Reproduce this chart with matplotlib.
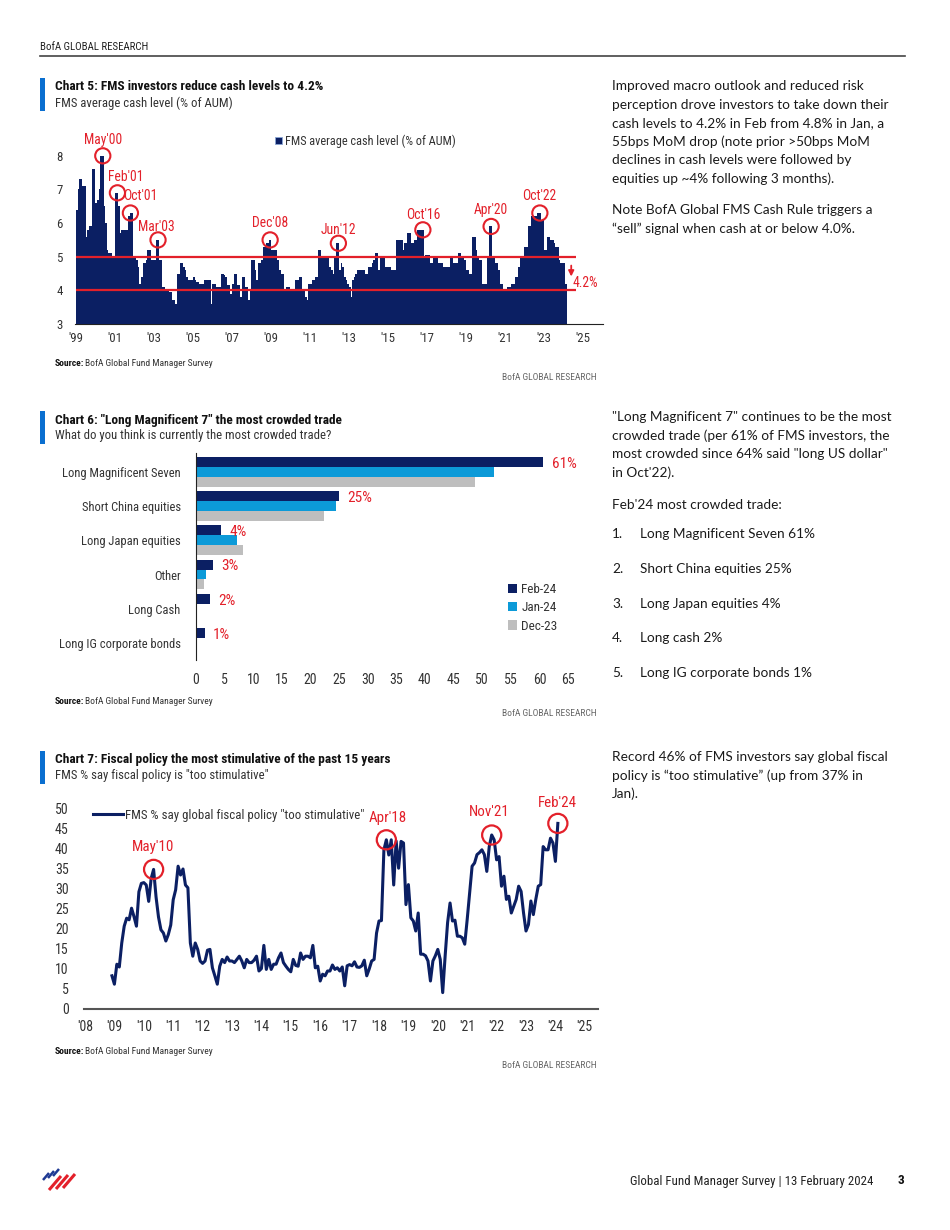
import numpy as np
import matplotlib
matplotlib.use('Agg')
import matplotlib.pyplot as plt
from matplotlib import font_manager
from matplotlib.patches import Rectangle, Patch
from matplotlib.lines import Line2D

W, H = 950, 1230

# fonts: narrow face for charts if available
names = {f.name for f in font_manager.fontManager.ttflist}
COND = next((n for n in ['Liberation Sans Narrow', 'Roboto Condensed', 'Open Sans Condensed',
                         'DejaVu Sans Condensed'] if n in names), 'Roboto')
BODY = 'Lato' if 'Lato' in names else 'DejaVu Sans'

NAVY = '#0b1f63'
RED = '#e3202a'
CYAN = '#0c9ad8'
GREY = '#bebebe'
BLUE_BAR = '#0a6fd0'

# ---------------- DATA ----------------
# Chart 5: FMS average cash level (% of AUM), monthly Jan-1999 .. Feb-2024
cash = [
    6.4, 7.0, 7.3, 7.3, 7.1, 7.1, 5.6, 5.8, 5.9, 5.9, 7.6, 7.6,   # 1999
    6.6, 6.7, 7.0, 8.0, 8.0, 6.5, 6.0, 5.2, 5.1, 5.1, 5.0, 5.0,   # 2000
    6.9, 6.9, 6.5, 5.7, 5.8, 5.8, 5.8, 5.8, 6.2, 6.3, 6.3, 5.0,   # 2001
    5.0, 4.9, 4.7, 4.2, 4.4, 4.8, 4.8, 4.9, 5.2, 5.2, 4.9, 4.9,   # 2002
    4.9, 5.5, 5.5, 4.9, 4.9, 4.1, 4.1, 4.0, 4.0, 3.95, 3.95, 3.7,  # 2003
    3.7, 3.6, 4.5, 4.5, 4.8, 4.8, 4.7, 4.6, 4.4, 4.3, 4.3, 4.3,   # 2004
    4.4, 4.3, 4.25, 4.25, 4.2, 4.2, 4.2, 4.3, 4.3, 4.3, 4.3, 3.6,  # 2005
    4.2, 4.2, 4.1, 4.1, 4.1, 4.5, 4.5, 4.45, 4.4, 4.15, 4.15, 3.9,  # 2006
    4.2, 4.5, 4.5, 4.15, 4.15, 3.8, 4.4, 4.4, 4.1, 4.1, 3.7, 4.0,  # 2007
    4.9, 4.9, 4.6, 4.3, 4.8, 4.8, 4.9, 5.3, 5.3, 5.4, 5.4, 5.5,   # 2008
    5.2, 5.2, 5.2, 5.2, 4.9, 4.6, 4.5, 4.5, 4.0, 4.1, 4.1, 4.1,   # 2009
    4.05, 4.05, 4.05, 4.3, 4.3, 4.4, 4.4, 4.0, 4.0, 3.8, 3.7, 4.2,  # 2010
    4.2, 4.3, 4.3, 4.4, 4.4, 5.2, 5.2, 5.0, 5.0, 5.0, 5.0, 5.0,   # 2011
    4.7, 4.6, 4.5, 5.0, 5.4, 5.4, 4.6, 4.8, 4.7, 4.4, 4.3, 4.2,   # 2012
    4.1, 3.8, 4.3, 4.4, 4.5, 4.6, 4.6, 4.6, 4.6, 4.6, 4.5, 4.5,   # 2013
    4.7, 4.7, 4.8, 4.9, 5.1, 5.1, 4.6, 5.0, 5.0, 5.0, 4.7, 4.7,   # 2014
    4.7, 4.7, 4.6, 4.6, 4.6, 5.5, 5.5, 5.5, 5.5, 5.2, 5.4, 5.4,   # 2015
    5.7, 5.7, 5.4, 5.4, 5.5, 5.5, 5.8, 5.8, 5.8, 5.8, 5.0, 5.05,  # 2016
    5.05, 5.05, 4.8, 4.8, 5.0, 5.0, 5.0, 4.8, 4.8, 4.8, 4.7, 4.7,  # 2017
    4.7, 4.7, 5.0, 5.0, 4.8, 4.8, 4.8, 5.1, 5.1, 5.0, 5.0, 4.9,   # 2018
    4.6, 4.6, 4.5, 4.5, 5.6, 5.6, 5.2, 5.0, 4.9, 4.9, 4.2, 4.2,   # 2019
    4.2, 5.0, 5.9, 5.9, 5.0, 5.0, 4.8, 4.8, 4.6, 4.2, 4.2, 4.0,   # 2020
    4.0, 4.1, 4.1, 4.1, 4.2, 4.2, 4.4, 4.4, 4.7, 5.0, 5.0, 5.0,   # 2021
    5.3, 5.3, 5.9, 5.9, 6.2, 6.2, 6.2, 6.2, 6.3, 6.3, 6.1, 6.1,   # 2022
    5.2, 5.2, 5.6, 5.6, 5.5, 5.5, 5.4, 5.3, 5.3, 4.9, 4.8, 4.8,   # 2023
    4.8, 4.2,                                                     # 2024
]
cash_start = 1999
cash_peaks = ["May'00", "Feb'01", "Oct'01", "Mar'03", "Dec'08", "Jun'12", "Oct'16", "Apr'20", "Oct'22"]
cash_peak_idx = [16, 25, 33, 50, 119, 161, 213, 255, 285]
cash_upper, cash_lower = 5.0, 4.0
cash_last_label = '4.2%'

# Chart 6: most crowded trade (% of respondents)
trades = ['Long Magnificent Seven', 'Short China equities', 'Long Japan equities',
          'Other', 'Long Cash', 'Long IG corporate bonds']
feb24 = [60.7, 24.9, 4.3, 2.9, 2.4, 1.5]
jan24 = [52.0, 24.4, 7.2, 1.8, 0.0, 0.0]
dec23 = [48.8, 22.3, 8.2, 1.4, 0.0, 0.0]
feb24_labels = ['61%', '25%', '4%', '3%', '2%', '1%']
survey_names = ['Feb-24', 'Jan-24', 'Dec-23']

# Chart 7: FMS % say global fiscal policy "too stimulative", monthly from Dec-2008
fiscal = [
    8.3, 6.2, 11.2, 10.5, 16.5, 20.7, 22.7, 22.3, 25.2, 23.1,
    20.7, 29.3, 31.4, 31.6, 31.0, 26.9, 32.6, 34.9, 28.0, 23.0,
    19.8, 19.0, 17.0, 18.6, 21.0, 27.3, 29.8, 35.7, 33.5, 35.0,
    31.0, 30.3, 16.5, 13.2, 16.5, 14.9, 12.0, 11.4, 12.0, 14.7,
    14.9, 10.3, 8.3, 6.2, 10.7, 12.4, 11.6, 13.0, 12.0, 12.0,
    11.6, 12.4, 13.2, 12.0, 10.3, 12.4, 11.6, 11.6, 12.2, 13.2,
    9.5, 10.1, 15.9, 9.9, 12.4, 9.9, 11.2, 11.2, 12.8, 14.0,
    11.6, 10.7, 9.9, 9.3, 12.4, 10.9, 10.7, 14.0, 12.4, 13.2,
    13.2, 12.8, 15.9, 10.3, 10.7, 7.0, 8.7, 8.3, 9.5, 9.5,
    11.0, 9.9, 10.3, 9.5,
    10.5, 5.8, 10.8, 11.1, 10.8, 11.8, 10.5, 10.4, 10.8, 12.2,
    8.3, 10.0, 12.0, 12.4, 19.0, 22.0, 22.1,
    39.8, 42.3, 38.5, 42.3, 31.0, 42.0, 35.2, 41.9, 41.5,
    26.1, 31.1, 22.8, 22.0, 19.5, 24.0, 13.7, 13.7, 13.3, 12.0,
    7.0, 12.0, 13.3, 14.9, 12.4, 4.1, 13.3, 21.6, 26.5, 22.0,
    22.2, 18.2, 18.2, 17.8, 16.2, 22.4, 29.0, 35.7, 36.5, 38.6,
    39.1, 39.8, 38.6, 34.4, 40.6, 43.5, 42.3, 37.3, 38.1, 30.7,
    33.2, 27.4, 28.2, 24.0, 25.7, 27.4, 30.7, 29.4, 24.0, 19.5,
    21.1, 27.0, 23.6, 27.4, 30.7, 31.1, 40.6, 39.8, 39.8, 42.7,
    41.5, 36.9, 46.4,
]
fiscal_start = 2008 + 11 / 12
fiscal_peaks = ["May'10", "Apr'18", "Nov'21", "Feb'24"]
fiscal_peak_idx = [17, 112, 155, 182]

# ---------------- FIGURE ----------------
fig = plt.figure(figsize=(W / 100, H / 100), dpi=100)


def fx(px):
    return px / W


def fy(py):
    return 1 - py / H


def add_ax(l, t, r, b):
    return fig.add_axes([fx(l), fy(b), (r - l) / W, (b - t) / H])


def chart_header(top, title, subtitle):
    fig.add_artist(Rectangle((fx(40), fy(top + 33)), 5 / W, 33 / H, color=BLUE_BAR, lw=0))
    fig.text(fx(55), fy(top + 9), title, fontsize=9.6, weight='bold', family=COND, va='center', color='#111')
    fig.text(fx(55), fy(top + 25), subtitle, fontsize=9.2, family=COND, va='center', color='#333')


def chart_source(y_src, y_brand):
    fig.text(fx(55), fy(y_src), 'Source:', fontsize=6.8, weight='bold', family=COND, va='center', color='#111')
    fig.text(fx(85), fy(y_src), 'BofA Global Fund Manager Survey', fontsize=6.8, family=COND,
             va='center', color='#333')
    fig.text(fx(597), fy(y_brand), 'BofA GLOBAL RESEARCH', fontsize=6.8, family=COND, ha='right',
             va='center', color='#666')


def body(x, y0, lines, step=18.6):
    for k, s in enumerate(lines):
        fig.text(fx(x), fy(y0 + k * step), s, fontsize=9.8, family=BODY, va='center', color='#1a1a1a')


# header / footer
fig.text(fx(40), fy(47), 'BofA GLOBAL RESEARCH', fontsize=7.8, family=COND, va='center', color='#222')
fig.add_artist(Line2D([fx(40), fx(905)], [fy(56), fy(56)], color='#444', lw=1.2))
fig.text(fx(873), fy(1181), 'Global Fund Manager Survey | 13 February 2024', fontsize=9.3, family=COND,
         ha='right', va='center', color='#222')
fig.text(fx(901), fy(1181), '3', fontsize=9.5, weight='bold', family=COND, ha='center', va='center', color='#111')
# small flag logo
for k in range(3):
    fig.add_artist(Line2D([fx(43 + 5 * k), fx(49 + 5 * k)], [fy(1180 - 2 * k), fy(1173 - 2 * k)],
                          color='#1f3a93', lw=1.8, solid_capstyle='butt'))
    fig.add_artist(Line2D([fx(49 + 7 * k), fx(61 + 7 * k)], [fy(1190 - k), fy(1176 - k)],
                          color=RED, lw=2.2, solid_capstyle='butt'))

# ---------------- CHART 5 ----------------
chart_header(78, 'Chart 5: FMS investors reduce cash levels to 4.2%', 'FMS average cash level (% of AUM)')
ax5 = add_ax(75, 139, 603, 324)
x5 = cash_start + np.arange(len(cash)) / 12
ax5.bar(x5, cash, width=1 / 12, align='edge', color=NAVY, linewidth=0, zorder=2)
ax5.set_xlim(1998.95, 2026.03)
ax5.set_ylim(3, 8.5)
ax5.hlines([cash_upper, cash_lower], 1999, 2024.66, color=RED, lw=1.6, zorder=3)
yrs5 = np.arange(1999, 2026, 2)
ax5.set_xticks(yrs5)
ax5.set_xticklabels(["'%02d" % (y % 100) for y in yrs5])
ax5.set_yticks(range(3, 9))
ax5.tick_params(length=0, labelsize=9.3, labelcolor='#333', pad=6)
ax5.tick_params(axis='y', pad=9)
for lab in ax5.get_xticklabels() + ax5.get_yticklabels():
    lab.set_family(COND)
for s in ['top', 'right', 'left']:
    ax5.spines[s].set_visible(False)
ax5.spines['bottom'].set_color('#222')
ax5.spines['bottom'].set_zorder(1)

pk_x = [x5[i] + 1 / 24 for i in cash_peak_idx]
pk_y = [cash[i] for i in cash_peak_idx]
ax5.scatter(pk_x, pk_y, s=120, facecolors='none', edgecolors=RED, linewidths=1.5, zorder=5)
offs5 = [(0, 16), (8, 16), (10, 17), (-2, 13), (0, 17), (0, 13), (0, 15), (0, 16), (-1, 17)]
for lab, px, py, (dx, dy) in zip(cash_peaks, pk_x, pk_y, offs5):
    ax5.annotate(lab, (px, py), xytext=(dx, dy), textcoords='offset pixels', ha='center', va='center',
                 fontsize=9.8, family=COND, color=RED, zorder=6)
ax5.annotate('', xy=(2024.4, 4.33), xytext=(2024.4, 4.82),
             arrowprops=dict(arrowstyle='-|>', color=RED, lw=1.3, mutation_scale=8), zorder=6)
ax5.text(2024.45, 4.22, cash_last_label, fontsize=9.8, family=COND, color=RED, va='center', ha='left', zorder=6)
ax5.legend(handles=[Patch(facecolor=NAVY, edgecolor='#8aa6d6', linewidth=0.6,
                          label='FMS average cash level (% of AUM)')],
           loc='center', bbox_to_anchor=((365 - 75) / 528, (324 - 141) / 185), frameon=False,
           handlelength=0.6, handleheight=0.6, handletextpad=0.2, borderpad=0,
           prop={'family': COND, 'size': 8.8}, labelcolor='#333')
chart_source(363, 377)

# ---------------- CHART 6 ----------------
chart_header(411, 'Chart 6: "Long Magnificent 7" the most crowded trade',
             'What do you think is currently the most crowded trade?')
ax6 = add_ax(196, 453, 568, 660)
pos = np.arange(len(trades))
h = 0.29
b1 = ax6.barh(pos - h, feb24, height=h, color=NAVY, label=survey_names[0])
b2 = ax6.barh(pos, jan24, height=h, color=CYAN, label=survey_names[1])
b3 = ax6.barh(pos + h, dec23, height=h, color=GREY, label=survey_names[2])
ax6.set_xlim(0, 65)
ax6.set_ylim(5.5, -0.555)
for v, p, lab in zip(feb24, pos, feb24_labels):
    ax6.text(v + 1.5, p - h + 0.05, lab, color=RED, fontsize=11, family=COND, va='center', ha='left')
ax6.set_yticks(pos)
ax6.set_yticklabels(trades)
ax6.set_xticks(range(0, 66, 5))
ax6.tick_params(length=0, labelsize=9, labelcolor='#333')
ax6.tick_params(axis='y', pad=11)
ax6.tick_params(axis='x', pad=9, labelsize=10)
for lab in ax6.get_xticklabels() + ax6.get_yticklabels():
    lab.set_family(COND)
for s in ['top', 'right', 'bottom']:
    ax6.spines[s].set_visible(False)
ax6.spines['left'].set_color('#222')
ax6.legend(handles=[b1, b2, b3], loc='upper left', bbox_to_anchor=((508 - 196) / 372, (660 - 583) / 207),
           frameon=False, handlelength=0.7, handleheight=0.7, handletextpad=0.3, labelspacing=0.4,
           borderpad=0, borderaxespad=0, prop={'family': COND, 'size': 9.5}, labelcolor='#333')
chart_source(701, 714)

# ---------------- CHART 7 ----------------
chart_header(751, 'Chart 7: Fiscal policy the most stimulative of the past 15 years',
             'FMS % say fiscal policy is "too stimulative"')
ax7 = add_ax(84, 801, 598, 1009)
x7 = fiscal_start + np.arange(len(fiscal)) / 12
ax7.plot(x7, fiscal, color=NAVY, lw=2.2, label='FMS % say global fiscal policy "too stimulative"', zorder=3)
ax7.set_xlim(2008 - 1 / 29.4, 2008 + 513 / 29.4)
ax7.set_ylim(0, 52)
yrs7 = np.arange(2008, 2026)
ax7.set_xticks(yrs7)
ax7.set_xticklabels(["'%02d" % (y % 100) for y in yrs7])
ax7.set_yticks(range(0, 51, 5))
ax7.tick_params(length=0, labelsize=10, labelcolor='#333')
ax7.tick_params(axis='y', pad=11)
ax7.tick_params(axis='x', pad=8)
for lab in ax7.get_xticklabels() + ax7.get_yticklabels():
    lab.set_family(COND)
for s in ['top', 'right', 'left']:
    ax7.spines[s].set_visible(False)
ax7.spines['bottom'].set_color('#555')
ax7.spines['bottom'].set_linewidth(1.5)

fk_x = [x7[i] for i in fiscal_peak_idx]
fk_y = [fiscal[i] for i in fiscal_peak_idx]
ax7.scatter(fk_x, fk_y, s=190, facecolors='none', edgecolors=RED, linewidths=1.6, zorder=5)
offs7 = [(-1, 22), (1, 22), (-2, 23), (0, 20)]
for lab, px, py, (dx, dy) in zip(fiscal_peaks, fk_x, fk_y, offs7):
    ax7.annotate(lab, (px, py), xytext=(dx, dy), textcoords='offset pixels', ha='center', va='center',
                 fontsize=10.8, family=COND, color=RED, zorder=6)
ax7.legend(loc='center left', bbox_to_anchor=((93 - 84) / 514, (1009 - 815) / 208), frameon=False,
           handlelength=2.3, handletextpad=0.15, borderpad=0, borderaxespad=0,
           prop={'family': COND, 'size': 9.3}, labelcolor='#333')
chart_source(1051, 1065)

# ---------------- RIGHT COLUMN TEXT ----------------
body(612, 86, ["Improved macro outlook and reduced risk",
               "perception drove investors to take down their",
               "cash levels to 4.2% in Feb from 4.8% in Jan, a",
               "55bps MoM drop (note prior >50bps MoM",
               "declines in cash levels were followed by",
               "equities up ~4% following 3 months)."])
body(612, 210, ["Note BofA Global FMS Cash Rule triggers a",
                "\u201csell\u201d signal when cash at or below 4.0%."])
body(612, 417, ['"Long Magnificent 7" continues to be the most',
                'crowded trade (per 61% of FMS investors, the',
                'most crowded since 64% said "long US dollar"',
                "in Oct'22)."])
body(612, 505, ["Feb'24 most crowded trade:"])
crowded_items = ["Long Magnificent Seven 61%", "Short China equities 25%", "Long Japan equities 4%",
                 "Long cash 2%", "Long IG corporate bonds 1%"]
for k, item in enumerate(crowded_items):
    body(612, 534 + k * 34.8, ["%d." % (k + 1)])
    body(640, 534 + k * 34.8, [item])
body(612, 757, ["Record 46% of FMS investors say global fiscal",
                "policy is \u201ctoo stimulative\u201d (up from 37% in",
                "Jan)."])

fig.savefig('out.png', dpi=100, facecolor='white')
